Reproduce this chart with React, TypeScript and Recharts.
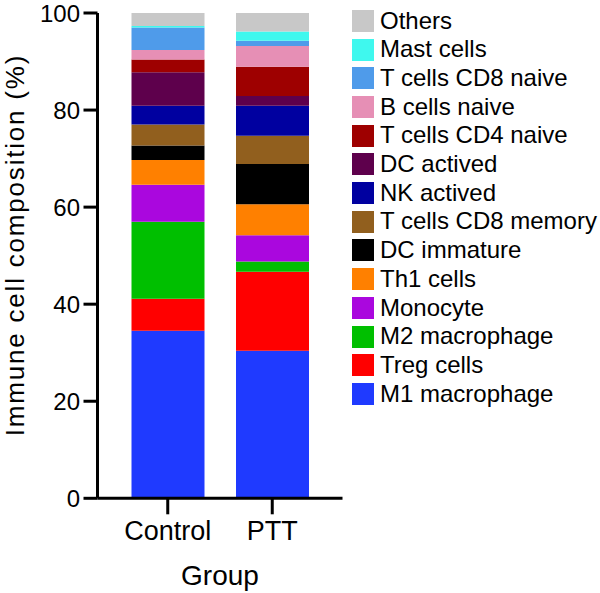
import React from 'react';
import { BarChart, Bar, XAxis, YAxis, Legend, Label } from 'recharts';

const groups = ['Control', 'PTT'];
const cellTypes = [
  'M1 macrophage',
  'Treg cells',
  'M2 macrophage',
  'Monocyte',
  'Th1 cells',
  'DC immature',
  'T cells CD8 memory',
  'NK actived',
  'DC actived',
  'T cells CD4 naive',
  'B cells naive',
  'T cells CD8 naive',
  'Mast cells',
  'Others',
];
const m1Macrophage = [34.5, 30.4];
const tregCells = [6.6, 16.3];
const m2Macrophage = [15.9, 2.1];
const monocyte = [7.6, 5.4];
const th1Cells = [5.1, 6.4];
const dcImmature = [3.0, 8.3];
const tCellsCD8Memory = [4.3, 5.8];
const nkActived = [3.9, 6.2];
const dcActived = [6.9, 2.0];
const tCellsCD4Naive = [2.6, 6.0];
const bCellsNaive = [2.0, 4.3];
const tCellsCD8Naive = [4.6, 1.1];
const mastCells = [0.3, 1.9];
const others = [2.7, 3.8];
const yTicks = [0, 20, 40, 60, 80, 100];

const seriesValues = [
  m1Macrophage, tregCells, m2Macrophage, monocyte, th1Cells, dcImmature,
  tCellsCD8Memory, nkActived, dcActived, tCellsCD4Naive, bCellsNaive,
  tCellsCD8Naive, mastCells, others,
];
const seriesColors = [
  '#1F3AFF', '#FF0000', '#00BF00', '#AA07DE', '#FF8000', '#000000',
  '#915F1E', '#0000A0', '#5E004C', '#9E0000', '#E68FB5',
  '#4F9BEA', '#3FF8EE', '#C8C8C8',
];

const data = groups.map((g, i) => {
  const row: any = { group: g };
  cellTypes.forEach((c, k) => {
    row[c] = seriesValues[k][i];
  });
  return row;
});

const FONT = '"Liberation Sans", Arial, sans-serif';

const renderLegend = (props: any) => {
  const items = [...(props.payload || [])].sort(
    (a: any, b: any) => cellTypes.indexOf(b.value) - cellTypes.indexOf(a.value)
  );
  return (
    <div style={{ display: 'flex', flexDirection: 'column' }}>
      {items.map((it: any) => (
        <div key={it.value} style={{ height: 28.7, display: 'flex', alignItems: 'center' }}>
          <span style={{ width: 22, height: 22, background: it.color, display: 'inline-block', flex: 'none' }} />
          <span style={{ marginLeft: 6, fontSize: 24, lineHeight: '28.7px', fontFamily: FONT, color: '#000', whiteSpace: 'nowrap' }}>
            {it.value}
          </span>
        </div>
      ))}
    </div>
  );
};

const YLabel = () => (
  <text
    x={24}
    y={245}
    transform="rotate(-90 24 245)"
    textAnchor="middle"
    fontSize={26}
    letterSpacing={1.8}
    fontFamily={FONT}
    fill="#000"
  >
    Immune cell composition (%)
  </text>
);

export default function App() {
  return (
    <div style={{ position: 'absolute', left: 0, top: 0, width: 600, height: 593, background: '#fff' }}>
      <BarChart
        width={600}
        height={593}
        data={data}
        margin={{ top: 13, right: 257.5, bottom: 0, left: 0 }}
        barCategoryGap={0}
      >
        <XAxis
          dataKey="group"
          height={94.7}
          padding={{ left: 18, right: 18 }}
          tickSize={16}
          tickMargin={7}
          tick={{ fill: '#000', fontSize: 27, fontFamily: FONT }}
          tickLine={{ stroke: '#000', strokeWidth: 3 }}
          axisLine={{ stroke: '#000', strokeWidth: 3 }}
        >
          <Label value="Group" position="insideBottom" offset={8} style={{ fontSize: 28, fill: '#000', fontFamily: FONT }} />
        </XAxis>
        <XAxis
          xAxisId="top"
          orientation="top"
          dataKey="group"
          height={0}
          tick={false}
          tickLine={false}
          axisLine={{ stroke: '#000', strokeWidth: 2.5 }}
        />
        <YAxis
          width={97.5}
          domain={[0, 100]}
          ticks={yTicks}
          interval={0}
          tickSize={14}
          tickMargin={3.5}
          tick={{ fill: '#000', fontSize: 24, fontFamily: FONT }}
          tickLine={{ stroke: '#000', strokeWidth: 3 }}
          axisLine={{ stroke: '#000', strokeWidth: 3 }}
        >
          <Label content={<YLabel />} />
        </YAxis>
        <YAxis
          yAxisId="right"
          orientation="right"
          width={0}
          domain={[0, 100]}
          tick={false}
          tickLine={false}
          axisLine={{ stroke: '#000', strokeWidth: 2.5 }}
        />
        <Legend
          layout="horizontal"
          verticalAlign="middle"
          align="center"
          content={renderLegend}
          wrapperStyle={{ left: 352, top: 6.65, width: 248, margin: 0, padding: 0 }}
        />
        {cellTypes.map((c, k) => (
          <Bar
            key={c}
            dataKey={c}
            name={c}
            stackId="a"
            fill={seriesColors[k]}
            barSize={73}
            isAnimationActive={false}
          />
        ))}
      </BarChart>
    </div>
  );
}
